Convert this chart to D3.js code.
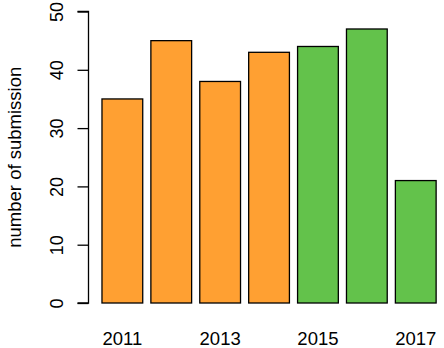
<!DOCTYPE html>
<html><head><meta charset="utf-8">
<script src="https://cdn.jsdelivr.net/npm/d3@7"></script>
<style>body{margin:0;background:#fff}svg{display:block}text{font-family:"Liberation Sans",Arial,sans-serif;fill:#000}</style>
</head><body><svg id="c" width="444" height="348"></svg>
<script>
const years = ["2011","2012","2013","2014","2015","2016","2017"];
const submissions = [35,45,38,43,44,47,21];
const barColors = ["#FFA032","#FFA032","#FFA032","#FFA032","#63C24B","#63C24B","#63C24B"];
const xTickLabels = ["2011","2013","2015","2017"];
const yTicks = [0,10,20,30,40,50];

const svg = d3.select("#c");
// R barplot style: width 1, space 0.2
const x = d3.scaleBand().domain(years).range([97.9, 97.9 + 7*48.9])
  .paddingInner(0.2/1.2).paddingOuter(0.2/1.2/2);
const y = d3.scaleLinear().domain([0,50]).range([303, 11.5]);
const bw = x.bandwidth();

svg.selectAll("rect.bar").data(years).join("rect")
  .attr("x", d => x(d)).attr("width", bw)
  .attr("y", (d,i) => y(submissions[i])).attr("height", (d,i) => y(0) - y(submissions[i]))
  .attr("fill", (d,i) => barColors[i]).attr("stroke", "#000").attr("stroke-width", 1.3);

const yAxis = svg.append("g").attr("transform","translate(88.5,0)")
  .call(d3.axisLeft(y).tickValues(yTicks).tickSize(11).tickPadding(0).tickFormat(d3.format("d")));
yAxis.select(".domain").attr("d", `M-11,${y(0)}H0V${y(50)}H-11`).attr("stroke","#000").attr("stroke-width",1.3).attr("fill","none");
yAxis.selectAll(".tick line").attr("stroke","#000").attr("stroke-width",1.3);
yAxis.selectAll(".tick text").attr("transform","rotate(-90)").attr("x",0).attr("y",-31.5).attr("dy","0.35em")
  .attr("text-anchor","middle").style("font-size","18px").style("font-family","'Liberation Sans',Arial,sans-serif");

svg.selectAll("text.xl").data(xTickLabels).join("text").attr("class","xl")
  .attr("x", d => x(d) + bw/2).attr("y", 345).attr("text-anchor","middle").style("font-size","18.5px").text(d => d);

svg.append("text").attr("transform", `translate(21,${(y(0)+y(50))/2}) rotate(-90)`).attr("text-anchor","middle")
  .style("font-size","18.5px").text("number of submission");
</script></body></html>
